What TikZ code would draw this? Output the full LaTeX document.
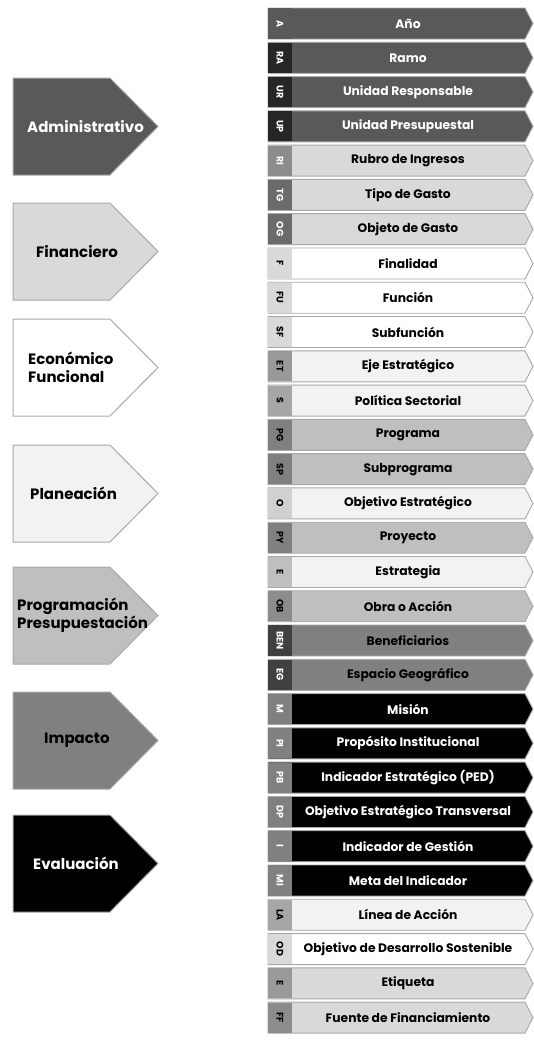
\documentclass[tikz,border=0pt]{standalone}
\usepackage{fontspec}
\setmainfont{Poppins}
\definecolor{g26}{HTML}{262626}
\definecolor{g40}{HTML}{404040}
\definecolor{g59}{HTML}{595959}
\definecolor{g6b}{HTML}{6B6B6B}
\definecolor{g80}{HTML}{808080}
\definecolor{g8c}{HTML}{8C8C8C}
\definecolor{g99}{HTML}{999999}
\definecolor{ga6}{HTML}{A6A6A6}
\definecolor{gbf}{HTML}{BFBFBF}
\definecolor{gd0}{HTML}{D0D0D0}
\definecolor{gd9}{HTML}{D9D9D9}
\definecolor{gf2}{HTML}{F2F2F2}
\definecolor{edge}{HTML}{A8A8A8}
\tikzset{
  rowlabel/.style={font=\bfseries\fontsize{12.3}{14}\selectfont, inner sep=0pt},
  taglabel/.style={font=\bfseries\fontsize{9.5}{10}\selectfont, rotate=-90, inner sep=0pt},
  catlabel/.style={font=\bfseries\fontsize{15}{18}\selectfont, inner sep=0pt, align=left},
  rowshape/.style={draw=edge, line width=0.9pt},
  catshape/.style={draw=edge, line width=1pt},
}
\begin{document}
\begin{tikzpicture}[x=1pt,y=-1pt]
\useasboundingbox (0,0) rectangle (534,1042);
% category arrows
\foreach \n/\t/\bc in {adm/78/g59, fin/203/gd9, eco/319/white, pla/445/gf2, pro/567/gbf, imp/692/g80, eva/815/black}{
  \path[catshape, fill=\bc] (13,\t) -- (110,\t) -- (158,\t+48.5) -- (110,\t+97) -- (13,\t+97) -- cycle;
  \coordinate (\n) at (13,\t+48.5);
}
\node[catlabel, text=white, anchor=west] (ladm) at ([xshift=14pt]adm) {Administrativo};
\node[catlabel, text=black, anchor=west] (lfin) at ([xshift=23pt]fin) {Financiero};
\node[catlabel, text=black, anchor=west] (leco) at ([xshift=15pt]eco) {Económico\\Funcional};
\node[catlabel, text=black, anchor=west] (lpla) at ([xshift=17pt]pla) {Planeación};
\node[catlabel, text=black, anchor=west] (lpro) at ([xshift=4pt]pro) {Programación\\Presupuestación};
\node[catlabel, text=black, anchor=west] (limp) at ([xshift=31pt]imp) {Impacto};
\node[catlabel, text=white, anchor=west] (leva) at ([xshift=20pt]eva) {Evaluación};
% rows
\foreach \i/\tg/\lab/\tc/\bc/\ttc/\lc in {
  0/A/Año/g59/g59/white/white,
  1/RA/Ramo/g26/g59/white/white,
  2/UR/Unidad Responsable/g26/g59/white/white,
  3/UP/Unidad Presupuestal/g26/g59/white/white,
  4/RI/Rubro de Ingresos/g8c/gd9/white/black,
  5/TG/Tipo de Gasto/g6b/gd9/white/black,
  6/OG/Objeto de Gasto/g6b/gd9/white/black,
  7/F/Finalidad/gd9/white/black/black,
  8/FU/Función/gd9/white/black/black,
  9/SF/Subfunción/gd9/white/black/black,
  10/ET/Eje Estratégico/g99/gf2/black/black,
  11/S/Política Sectorial/ga6/gf2/black/black,
  12/PG/Programa/g80/gbf/black/black,
  13/SP/Subprograma/g80/gbf/black/black,
  14/O/Objetivo Estratégico/gd0/gf2/black/black,
  15/PY/Proyecto/g80/gbf/black/black,
  16/E/Estrategia/gbf/gf2/black/black,
  17/OB/Obra o Acción/g8c/gbf/black/black,
  18/BEN/Beneficiarios/g40/g80/white/black,
  19/EG/Espacio Geográfico/g40/g80/white/black,
  20/M/Misión/g80/black/white/white,
  21/PI/Propósito Institucional/g80/black/white/white,
  22/PB/Indicador Estratégico (PED)/g80/black/white/white,
  23/DP/Objetivo Estratégico Transversal/g80/black/white/white,
  24/I/Indicador de Gestión/g80/black/white/white,
  25/MI/Meta del Indicador/g80/black/white/white,
  26/LA/Línea de Acción/ga6/gf2/black/black,
  27/OD/Objetivo de Desarrollo Sostenible/gd9/white/black/black,
  28/E/Etiqueta/g99/gd9/black/black,
  29/FF/Fuente de Financiamiento/g8c/gd9/black/black}{
  \pgfmathsetmacro\t{8+34.28*\i}
  \path[rowshape, fill=\bc] (268,\t) -- (525,\t) -- (533,\t+15.5) -- (525,\t+31) -- (268,\t+31) -- cycle;
  \fill[\tc] (268.45,\t+0.45) rectangle (292,\t+30.55);
  \node[taglabel, text=\ttc] (tag\i) at (280,\t+15.5) {\tg};
  \node[rowlabel, text=\lc] (lab\i) at (408,\t+15.5) {\lab};
}
\end{tikzpicture}
\end{document}
